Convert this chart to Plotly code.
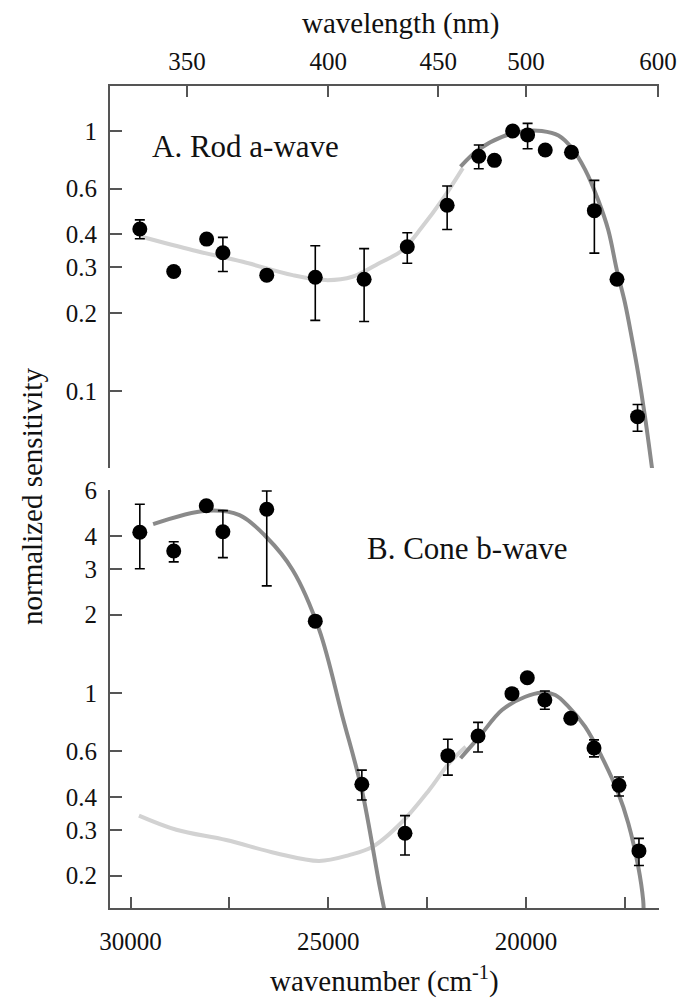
import plotly.graph_objects as go

# ---------------- data ----------------
# Panel A: Rod a-wave (wavenumber cm^-1, normalized sensitivity)
rod_wn = [29766, 28909, 28077, 27666, 26557, 25330, 24095, 23004, 21996, 21197,
          20801, 20340, 19962, 19516, 18853, 18274, 17702, 17182]
rod_val = [0.42, 0.288, 0.384, 0.34, 0.279, 0.274, 0.269, 0.359, 0.518, 0.80,
           0.771, 1.0, 0.966, 0.845, 0.828, 0.494, 0.269, 0.0797]
rod_hi = [0.455, None, None, 0.39, None, 0.362, 0.353, 0.406, 0.614, 0.883,
          None, None, 1.07, None, None, 0.646, None, 0.0887]
rod_lo = [0.385, None, None, 0.288, None, 0.187, 0.185, 0.31, 0.418, 0.716,
          None, None, 0.855, None, None, 0.339, None, 0.070]

rod_full_wn = [29723, 28422, 27162, 25902, 25060, 24390, 23717, 23130, 22626, 22122, 21600]
rod_full_val = [0.392, 0.348, 0.314, 0.279, 0.267, 0.275, 0.31, 0.348, 0.428, 0.543, 0.72]
rod_alpha_wn = [21658, 21197, 20610, 20020, 19602, 19181, 18846, 18508, 18173, 17921,
                17702, 17500, 17334, 17166, 16996, 16805]
rod_alpha_val = [0.73, 0.85, 0.95, 1.0, 1.0, 0.96, 0.86, 0.71, 0.54, 0.415,
                 0.29, 0.218, 0.162, 0.117, 0.08, 0.049]

# Panel B: Cone b-wave
cone_wn = [29766, 28909, 28085, 27666, 26557, 25330, 24153, 23062, 21978, 21215,
           20357, 19970, 19526, 18871, 18283, 17651, 17147]
cone_val = [4.14, 3.51, 5.23, 4.16, 5.07, 1.89, 0.448, 0.291, 0.577, 0.686,
            0.997, 1.147, 0.943, 0.802, 0.617, 0.444, 0.249]
cone_hi = [5.3, 3.81, None, 5.01, 5.96, None, 0.508, 0.34, 0.667, 0.774,
           None, None, 1.02, None, 0.663, 0.478, 0.278]
cone_lo = [3.0, 3.19, None, 3.31, 2.58, None, 0.39, 0.24, 0.486, 0.596,
           None, None, 0.869, None, 0.571, 0.404, 0.219]

uv_wn = [29430, 28085, 27245, 26573, 25902, 25230, 24642, 24153, 23717, 23591]
uv_val = [4.45, 5.01, 4.82, 3.98, 2.97, 1.75, 0.814, 0.426, 0.187, 0.15]
green_full_wn = [29788, 28841, 27581, 26320, 25230, 24473, 23886, 23130, 22450, 21946, 21526]
green_full_val = [0.34, 0.30, 0.274, 0.244, 0.228, 0.24, 0.258, 0.322, 0.426, 0.54, 0.624]
green_alpha_wn = [21658, 21197, 20610, 20020, 19602, 19264, 18929, 18508, 18090, 17669,
                  17417, 17166, 17040, 17030]
green_alpha_val = [0.564, 0.678, 0.863, 0.97, 1.005, 0.985, 0.889, 0.745, 0.572, 0.414,
                   0.318, 0.217, 0.161, 0.15]

# axis ticks
wl_ticks = [350, 400, 450, 500, 600]
wn_major = [30000, 25000, 20000]
wn_minor = [27500, 22500, 17500]
ya_ticks = [0.1, 0.2, 0.3, 0.4, 0.6, 1]
yb_ticks = [0.2, 0.3, 0.4, 0.6, 1, 2, 3, 4, 6]

# ---------------- styling ----------------
FONT = "'Liberation Serif', 'Times New Roman', Times, 'DejaVu Serif', serif"
LIGHT = "#d2d2d2"
DARK = "#8a8a8a"
AXC = "#555555"
TXT = "#111111"


def errs(vals, hi, lo):
    up = [(h - v) if h is not None else None for v, h in zip(vals, hi)]
    dn = [(v - l) if l is not None else None for v, l in zip(vals, lo)]
    return up, dn


fig = go.Figure()

# Panel A
fig.add_trace(go.Scatter(x=rod_full_wn, y=rod_full_val, mode="lines", line=dict(color=LIGHT, width=4, shape="spline"),
                         xaxis="x", yaxis="y", showlegend=False, hoverinfo="skip"))
fig.add_trace(go.Scatter(x=rod_alpha_wn, y=rod_alpha_val, mode="lines", line=dict(color=DARK, width=4, shape="spline"),
                         xaxis="x", yaxis="y", showlegend=False, hoverinfo="skip"))
up, dn = errs(rod_val, rod_hi, rod_lo)
fig.add_trace(go.Scatter(x=rod_wn, y=rod_val, mode="markers", marker=dict(color="black", size=15),
                         error_y=dict(type="data", symmetric=False, array=up, arrayminus=dn,
                                      color="black", thickness=1.6, width=5),
                         xaxis="x", yaxis="y", showlegend=False))

# Panel B
fig.add_trace(go.Scatter(x=green_full_wn, y=green_full_val, mode="lines", line=dict(color=LIGHT, width=4, shape="spline"),
                         xaxis="x2", yaxis="y2", showlegend=False, hoverinfo="skip"))
fig.add_trace(go.Scatter(x=green_alpha_wn, y=green_alpha_val, mode="lines", line=dict(color=DARK, width=4, shape="spline"),
                         xaxis="x2", yaxis="y2", showlegend=False, hoverinfo="skip"))
fig.add_trace(go.Scatter(x=uv_wn, y=uv_val, mode="lines", line=dict(color=DARK, width=4, shape="spline"),
                         xaxis="x2", yaxis="y2", showlegend=False, hoverinfo="skip"))
up, dn = errs(cone_val, cone_hi, cone_lo)
fig.add_trace(go.Scatter(x=cone_wn, y=cone_val, mode="markers", marker=dict(color="black", size=15),
                         error_y=dict(type="data", symmetric=False, array=up, arrayminus=dn,
                                      color="black", thickness=1.6, width=5),
                         xaxis="x2", yaxis="y2", showlegend=False))

XR = [30520, 16640]
tickfont = dict(family=FONT, size=25, color=TXT)

fig.update_layout(
    width=693, height=999,
    margin=dict(l=110, r=34, t=86, b=91),
    paper_bgcolor="white", plot_bgcolor="white",
    font=dict(family=FONT, color=TXT),
    xaxis=dict(domain=[0, 1], range=XR, side="top", anchor="y",
               tickmode="array", tickvals=[1e7 / w for w in wl_ticks], ticktext=[str(w) for w in wl_ticks],
               ticks="inside", ticklen=11, tickwidth=1.8, tickcolor=AXC,
               showline=True, linecolor=AXC, linewidth=2, mirror=False,
               showgrid=False, zeroline=False, tickfont=tickfont, ticklabelstandoff=4),
    yaxis=dict(domain=[(908 - 468) / 822, 1], type="log", range=[-1.296, 0.173], anchor="x",
               tickmode="array", tickvals=ya_ticks, ticktext=[str(v) for v in ya_ticks],
               ticks="inside", ticklen=12, tickwidth=1.8, tickcolor=AXC,
               showline=True, linecolor=AXC, linewidth=2,
               showgrid=False, zeroline=False, tickfont=tickfont, ticklabelstandoff=6),
    xaxis2=dict(domain=[0, 1], range=XR, side="bottom", anchor="y2",
                tickmode="array", tickvals=wn_major, ticktext=[str(v) for v in wn_major],
                ticks="inside", ticklen=11, tickwidth=1.8, tickcolor=AXC,
                minor=dict(tickmode="array", tickvals=wn_minor, ticks="inside", ticklen=11,
                           tickwidth=1.8, tickcolor=AXC, showgrid=False),
                showline=True, linecolor=AXC, linewidth=2,
                showgrid=False, zeroline=False, tickfont=tickfont, ticklabelstandoff=10),
    yaxis2=dict(domain=[0, (908 - 490) / 822], type="log", range=[-0.8226, 0.779], anchor="x2",
                tickmode="array", tickvals=yb_ticks, ticktext=[str(v) for v in yb_ticks],
                ticks="inside", ticklen=12, tickwidth=1.8, tickcolor=AXC,
                showline=True, linecolor=AXC, linewidth=2,
                showgrid=False, zeroline=False, tickfont=tickfont, ticklabelstandoff=6),
)

ann_font = dict(family=FONT, size=29, color=TXT)
fig.add_annotation(text="wavelength (nm)", xref="paper", yref="paper", x=0.53, y=(908 - 24) / 822,
                   xanchor="center", yanchor="middle", showarrow=False, font=ann_font)
fig.add_annotation(text="wavenumber (cm<sup>-1</sup>)", xref="paper", yref="paper", x=0.5, y=(908 - 980) / 822,
                   xanchor="center", yanchor="middle", showarrow=False, font=ann_font)
fig.add_annotation(text="normalized sensitivity", xref="paper", yref="paper", x=(32 - 110) / 549, y=0.5,
                   textangle=-90, xanchor="center", yanchor="middle", showarrow=False, font=ann_font)
fig.add_annotation(text="A. Rod a-wave", xref="paper", yref="paper", x=(150 - 110) / 549, y=(908 - 147) / 822,
                   xanchor="left", yanchor="middle", showarrow=False, font=dict(family=FONT, size=31, color=TXT))
fig.add_annotation(text="B. Cone b-wave", xref="paper", yref="paper", x=(365 - 110) / 549, y=(908 - 548) / 822,
                   xanchor="left", yanchor="middle", showarrow=False, font=dict(family=FONT, size=31, color=TXT))

fig.write_html("out.html")
